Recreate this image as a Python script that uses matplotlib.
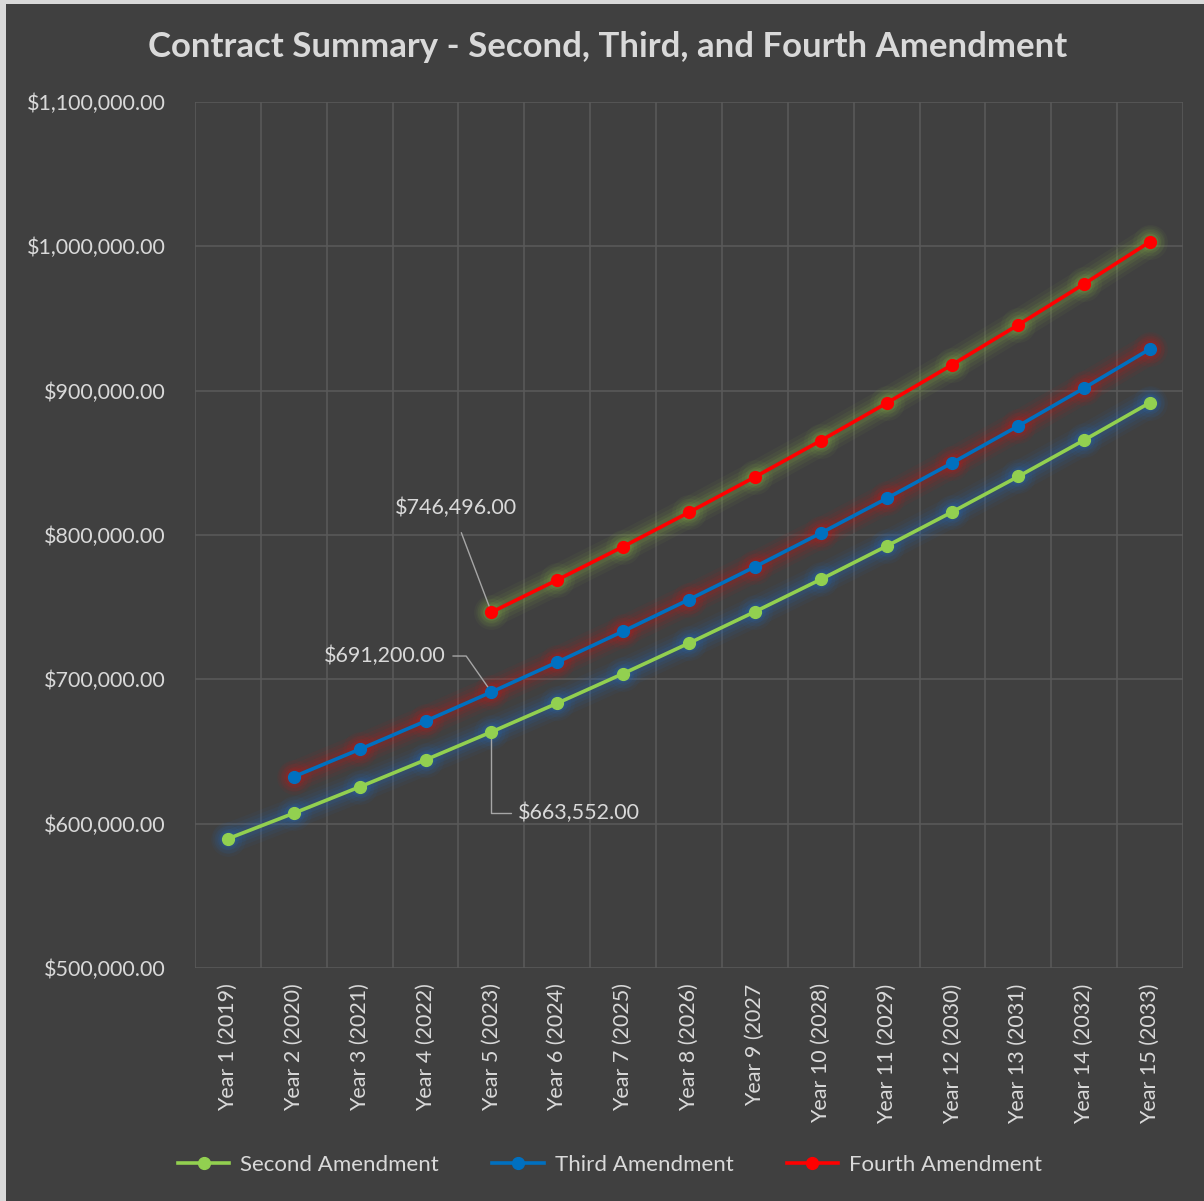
import matplotlib.pyplot as plt
from matplotlib.ticker import FuncFormatter, MultipleLocator
import numpy as np

plt.rcParams['font.family'] = ['Lato', 'DejaVu Sans']

years = ['Year 1 (2019)', 'Year 2 (2020)', 'Year 3 (2021)', 'Year 4 (2022)', 'Year 5 (2023)',
         'Year 6 (2024)', 'Year 7 (2025)', 'Year 8 (2026)', 'Year 9 (2027', 'Year 10 (2028)',
         'Year 11 (2029)', 'Year 12 (2030)', 'Year 13 (2031)', 'Year 14 (2032)', 'Year 15 (2033)']

second = [589557.36, 607244.08, 625461.40, 644225.24, 663552.00, 683458.56, 703962.32, 725081.19,
          746833.62, 769238.63, 792315.79, 816085.26, 840567.82, 865784.85, 891758.40]
third = [None, 632546.26, 651522.65, 671068.33, 691200.00, 711936.00, 733294.08, 755292.90,
         777951.69, 801290.24, 825328.95, 850088.82, 875591.48, 901859.23, 928915.01]
fourth = [None, None, None, None, 746496.00, 768890.88, 791957.61, 815716.34, 840187.83,
          865393.46, 891355.27, 918095.93, 945638.81, 974007.97, 1003228.21]

names = ['Second Amendment', 'Third Amendment', 'Fourth Amendment']
colors = ['#92d050', '#0070c0', '#ff0000']
glows = ['#1f6fd0', '#e01010', '#8fc040']

bg = '#404040'
txt = '#d9d9d9'
fs = 15.5

fig = plt.figure(figsize=(12.04, 12.01), dpi=100)
fig.patch.set_facecolor('#d9d9d9')
# dark chart area inside a thin light frame
fig.add_artist(plt.Rectangle((6/1204, 0), 1 - 6/1204, 1 - 4/1201, transform=fig.transFigure,
                             facecolor=bg, edgecolor='none', zorder=0))

ax = fig.add_axes([195/1204, 1 - 968/1201, (1183 - 195)/1204, (968 - 102)/1201])
ax.set_facecolor(bg)

x = np.arange(len(years))
handles = []
for vals, name, c, g in zip([second, third, fourth], names, colors, glows):
    y = np.array([np.nan if v is None else v for v in vals], dtype=float)
    for lw, ms, a in [(22, 25, 0.05), (17, 20, 0.07), (12, 15, 0.09), (8, 12, 0.11)]:
        ax.plot(x, y, color=g, lw=lw, alpha=a, marker='o', ms=ms, mec='none',
                solid_capstyle='round', zorder=2)
    h, = ax.plot(x, y, color=c, lw=2.6, marker='o', ms=8.5, mec=c, mfc=c, zorder=4, label=name)
    handles.append(h)

ax.set_xlim(-0.5, 14.5)
ax.set_ylim(500000, 1100000)
ax.yaxis.set_major_locator(MultipleLocator(100000))
ax.yaxis.set_major_formatter(FuncFormatter(lambda v, p: '${:,.2f}'.format(v)))
ax.set_xticks(x)
ax.set_xticklabels(years, rotation=90, ha='center', va='top')
ax.set_xticks(np.arange(-0.5, 15, 1), minor=True)
ax.grid(True, which='major', axis='y', color='#595959', lw=1.2)
ax.grid(True, which='minor', axis='x', color='#595959', lw=1.2)
ax.set_axisbelow(True)
ax.tick_params(axis='both', which='both', length=0, colors=txt, labelsize=fs)
ax.tick_params(axis='y', pad=21)
ax.tick_params(axis='x', pad=11)
for s in ax.spines.values():
    s.set_visible(False)

fig.text(608/1204, 1 - 47/1201, 'Contract Summary - Second, Third, and Fourth Amendment',
         ha='center', va='center', color=txt, fontsize=25, fontweight='bold')

# data labels
lc = '#a6a6a6'
ax.annotate('${:,.2f}'.format(fourth[4]), xy=(4, fourth[4]), xytext=(3.46, 818700),
            color=txt, fontsize=fs, ha='center', va='center',
            arrowprops=dict(arrowstyle='-', color=lc, lw=1, shrinkA=9, shrinkB=2,
                            relpos=(0.5, 0.0)))
ax.annotate('${:,.2f}'.format(third[4]), xy=(4, third[4]), xytext=(2.38, 716150),
            color=txt, fontsize=fs, ha='center', va='center',
            arrowprops=dict(arrowstyle='-', color=lc, lw=1, shrinkA=0, shrinkB=2,
                            connectionstyle='angle,angleA=0,angleB=125,rad=0',
                            relpos=(1.06, 0.5)))
ax.annotate('${:,.2f}'.format(second[4]), xy=(4, second[4]), xytext=(5.33, 607400),
            color=txt, fontsize=fs, ha='center', va='center',
            arrowprops=dict(arrowstyle='-', color=lc, lw=1, shrinkA=0, shrinkB=3,
                            connectionstyle='angle,angleA=180,angleB=90,rad=0',
                            relpos=(-0.06, 0.5)))

leg = fig.legend(handles=handles, loc='center', bbox_to_anchor=(610/1204, 1 - 1165/1201),
                 ncol=3, frameon=False, fontsize=16, labelcolor=txt, handlelength=2.3,
                 columnspacing=2.4, handletextpad=0.5)

fig.savefig('out.png', dpi=100, facecolor=fig.get_facecolor())
